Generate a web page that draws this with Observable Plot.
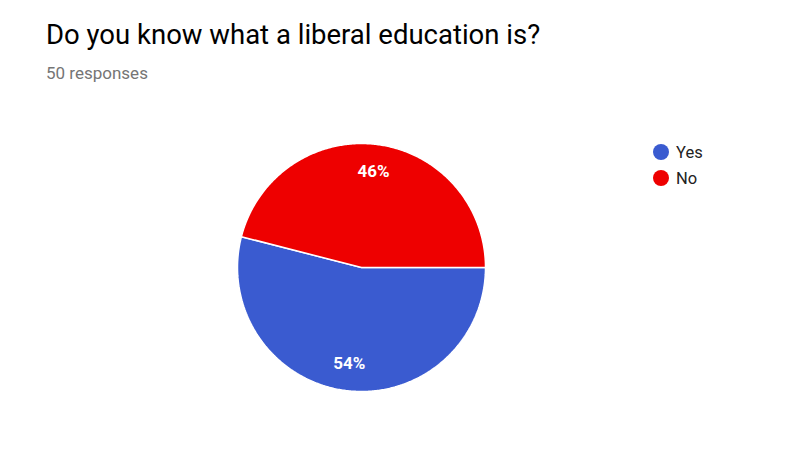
<!DOCTYPE html>
<html>
<head>
<meta charset="utf-8">
<script src="https://cdn.jsdelivr.net/npm/d3@7"></script>
<script src="https://cdn.jsdelivr.net/npm/@observablehq/plot@0.6"></script>
<style>
  html, body { margin: 0; padding: 0; background: #fff; }
  #wrap { position: relative; width: 789px; height: 453px; font-family: Roboto, "Noto Sans", sans-serif; overflow: hidden; }
  #title { position: absolute; left: 46px; top: 19px; font-size: 27.5px; color: #000; white-space: nowrap; line-height: 32px; }
  #sub { position: absolute; left: 46px; top: 63px; font-size: 17px; color: #757575; white-space: nowrap; line-height: 20px; }
  #legend { position: absolute; left: 653px; top: 139px; font-size: 16.5px; color: #222; }
  .item { display: flex; align-items: center; height: 26px; }
  .sw { width: 16px; height: 16px; border-radius: 50%; margin-right: 7px; }
  #chart { position: absolute; left: 0; top: 0; }
</style>
</head>
<body>
<div id="wrap">
  <div id="chart"></div>
  <div id="title"></div>
  <div id="sub"></div>
  <div id="legend"></div>
</div>
<script>
const title = "Do you know what a liberal education is?";
const subtitle = "50 responses";
const categories = ["Yes", "No"];
const counts = [27, 23];
const colors = ["#3a5bd0", "#ee0000"];

document.getElementById("title").textContent = title;
document.getElementById("sub").textContent = subtitle;
const leg = document.getElementById("legend");
categories.forEach((c, i) => {
  const it = document.createElement("div"); it.className = "item";
  const sw = document.createElement("div"); sw.className = "sw"; sw.style.background = colors[i];
  const t = document.createElement("span"); t.textContent = c;
  it.appendChild(sw); it.appendChild(t); leg.appendChild(it);
});

const total = d3.sum(counts);
const data = categories.map((c, i) => ({category: c, value: counts[i]}));
const arcs = d3.pie().value(d => d.value).sort(null).startAngle(Math.PI / 2).endAngle(Math.PI / 2 + 2 * Math.PI)(data);

const pts = [];
arcs.forEach(a => {
  const key = a.data.category;
  pts.push({key, x: 0, y: 0});
  const n = Math.max(2, Math.ceil((a.endAngle - a.startAngle) / 0.01));
  for (let k = 0; k <= n; k++) {
    const t = a.startAngle + (a.endAngle - a.startAngle) * k / n;
    pts.push({key, x: Math.sin(t), y: Math.cos(t)});
  }
  pts.push({key, x: 0, y: 0});
});

const labels = arcs.map(a => {
  const m = (a.startAngle + a.endAngle) / 2;
  return {x: 0.78 * Math.sin(m), y: 0.78 * Math.cos(m), text: Math.round(a.data.value / total * 100) + "%"};
});

const plot = Plot.plot({
  width: 789,
  height: 453,
  marginLeft: 237,
  marginRight: 304,
  marginTop: 143,
  marginBottom: 62,
  x: {domain: [-1, 1], axis: null},
  y: {domain: [-1, 1], axis: null},
  color: {domain: categories, range: colors},
  style: {fontFamily: "Roboto, sans-serif", background: "white"},
  marks: [
    Plot.line(pts, {x: "x", y: "y", z: "key", fill: "key", stroke: "white", strokeWidth: 1.5, strokeLinejoin: "miter", curve: "linear"}),
    Plot.text(labels, {x: "x", y: "y", text: "text", fill: "white", fontSize: 17, fontWeight: "bold"})
  ]
});
document.getElementById("chart").appendChild(plot);
</script>
</body>
</html>
